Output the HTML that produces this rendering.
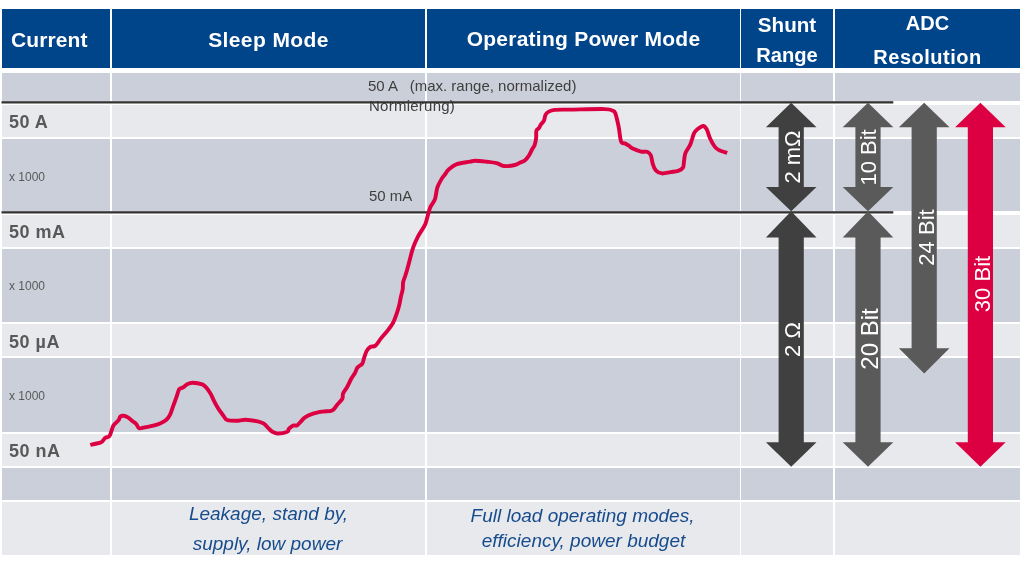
<!DOCTYPE html>
<html><head><meta charset="utf-8"><style>
html,body{margin:0;padding:0;background:#fff;}
body{width:1024px;height:569px;position:relative;overflow:hidden;font-family:"Liberation Sans",Arial,sans-serif;}
.c{position:absolute;}
.t{position:absolute;white-space:pre;line-height:1;will-change:transform;}
.h{color:#fff;font-weight:bold;font-size:21px;}
.h2{color:#fff;font-weight:bold;font-size:20px;text-align:center;}
.lb{color:#595959;font-weight:bold;font-size:18px;letter-spacing:0.5px;}
.x{color:#595959;font-size:12px;}
.n{color:#404040;font-size:15px;}
.i{color:#174c8c;font-style:italic;font-size:19px;text-align:center;}
svg{position:absolute;left:0;top:0;}
</style></head><body>
<div class="c" style="left:1.5px;top:9px;width:108.9px;height:59px;background:#00448a"></div><div class="c" style="left:111.9px;top:9px;width:313.2px;height:59px;background:#00448a"></div><div class="c" style="left:426.6px;top:9px;width:313.0px;height:59px;background:#00448a"></div><div class="c" style="left:741.1px;top:9px;width:92.0px;height:59px;background:#00448a"></div><div class="c" style="left:834.6px;top:9px;width:185.4px;height:59px;background:#00448a"></div><div class="c" style="left:1.5px;top:72.7px;width:108.9px;height:28.3px;background:#cbcfda"></div><div class="c" style="left:111.9px;top:72.7px;width:313.2px;height:28.3px;background:#cbcfda"></div><div class="c" style="left:426.6px;top:72.7px;width:313.0px;height:28.3px;background:#cbcfda"></div><div class="c" style="left:741.1px;top:72.7px;width:92.0px;height:28.3px;background:#cbcfda"></div><div class="c" style="left:834.6px;top:72.7px;width:185.4px;height:28.3px;background:#cbcfda"></div><div class="c" style="left:1.5px;top:105px;width:108.9px;height:32px;background:#e8e9ed"></div><div class="c" style="left:111.9px;top:105px;width:313.2px;height:32px;background:#e8e9ed"></div><div class="c" style="left:426.6px;top:105px;width:313.0px;height:32px;background:#e8e9ed"></div><div class="c" style="left:741.1px;top:105px;width:92.0px;height:32px;background:#e8e9ed"></div><div class="c" style="left:834.6px;top:105px;width:185.4px;height:32px;background:#e8e9ed"></div><div class="c" style="left:1.5px;top:139px;width:108.9px;height:72px;background:#cbcfda"></div><div class="c" style="left:111.9px;top:139px;width:313.2px;height:72px;background:#cbcfda"></div><div class="c" style="left:426.6px;top:139px;width:313.0px;height:72px;background:#cbcfda"></div><div class="c" style="left:741.1px;top:139px;width:92.0px;height:72px;background:#cbcfda"></div><div class="c" style="left:834.6px;top:139px;width:185.4px;height:72px;background:#cbcfda"></div><div class="c" style="left:1.5px;top:215px;width:108.9px;height:32px;background:#e8e9ed"></div><div class="c" style="left:111.9px;top:215px;width:313.2px;height:32px;background:#e8e9ed"></div><div class="c" style="left:426.6px;top:215px;width:313.0px;height:32px;background:#e8e9ed"></div><div class="c" style="left:741.1px;top:215px;width:92.0px;height:32px;background:#e8e9ed"></div><div class="c" style="left:834.6px;top:215px;width:185.4px;height:32px;background:#e8e9ed"></div><div class="c" style="left:1.5px;top:249px;width:108.9px;height:73px;background:#cbcfda"></div><div class="c" style="left:111.9px;top:249px;width:313.2px;height:73px;background:#cbcfda"></div><div class="c" style="left:426.6px;top:249px;width:313.0px;height:73px;background:#cbcfda"></div><div class="c" style="left:741.1px;top:249px;width:92.0px;height:73px;background:#cbcfda"></div><div class="c" style="left:834.6px;top:249px;width:185.4px;height:73px;background:#cbcfda"></div><div class="c" style="left:1.5px;top:324px;width:108.9px;height:32px;background:#e8e9ed"></div><div class="c" style="left:111.9px;top:324px;width:313.2px;height:32px;background:#e8e9ed"></div><div class="c" style="left:426.6px;top:324px;width:313.0px;height:32px;background:#e8e9ed"></div><div class="c" style="left:741.1px;top:324px;width:92.0px;height:32px;background:#e8e9ed"></div><div class="c" style="left:834.6px;top:324px;width:185.4px;height:32px;background:#e8e9ed"></div><div class="c" style="left:1.5px;top:358px;width:108.9px;height:73.5px;background:#cbcfda"></div><div class="c" style="left:111.9px;top:358px;width:313.2px;height:73.5px;background:#cbcfda"></div><div class="c" style="left:426.6px;top:358px;width:313.0px;height:73.5px;background:#cbcfda"></div><div class="c" style="left:741.1px;top:358px;width:92.0px;height:73.5px;background:#cbcfda"></div><div class="c" style="left:834.6px;top:358px;width:185.4px;height:73.5px;background:#cbcfda"></div><div class="c" style="left:1.5px;top:433.5px;width:108.9px;height:32.5px;background:#e8e9ed"></div><div class="c" style="left:111.9px;top:433.5px;width:313.2px;height:32.5px;background:#e8e9ed"></div><div class="c" style="left:426.6px;top:433.5px;width:313.0px;height:32.5px;background:#e8e9ed"></div><div class="c" style="left:741.1px;top:433.5px;width:92.0px;height:32.5px;background:#e8e9ed"></div><div class="c" style="left:834.6px;top:433.5px;width:185.4px;height:32.5px;background:#e8e9ed"></div><div class="c" style="left:1.5px;top:468px;width:108.9px;height:32px;background:#cbcfda"></div><div class="c" style="left:111.9px;top:468px;width:313.2px;height:32px;background:#cbcfda"></div><div class="c" style="left:426.6px;top:468px;width:313.0px;height:32px;background:#cbcfda"></div><div class="c" style="left:741.1px;top:468px;width:92.0px;height:32px;background:#cbcfda"></div><div class="c" style="left:834.6px;top:468px;width:185.4px;height:32px;background:#cbcfda"></div><div class="c" style="left:1.5px;top:501.5px;width:108.9px;height:53.5px;background:#e8e9ed"></div><div class="c" style="left:111.9px;top:501.5px;width:313.2px;height:53.5px;background:#e8e9ed"></div><div class="c" style="left:426.6px;top:501.5px;width:313.0px;height:53.5px;background:#e8e9ed"></div><div class="c" style="left:741.1px;top:501.5px;width:92.0px;height:53.5px;background:#e8e9ed"></div><div class="c" style="left:834.6px;top:501.5px;width:185.4px;height:53.5px;background:#e8e9ed"></div>
<div class="t h" style="left:10.5px;top:28.5px;letter-spacing:0.1px">Current</div>
<div class="t h" style="left:112px;width:313px;text-align:center;top:28.5px;letter-spacing:0.4px">Sleep Mode</div>
<div class="t h" style="left:427px;width:313px;text-align:center;top:28px;letter-spacing:0.25px">Operating Power Mode</div>
<div class="t h2" style="left:741px;width:92px;top:15.3px;font-size:20.6px">Shunt</div>
<div class="t h2" style="left:741px;width:92px;top:45.3px;font-size:20.2px">Range</div>
<div class="t h2" style="left:835px;width:185px;top:13px">ADC</div>
<div class="t h2" style="left:835px;width:185px;top:47px;letter-spacing:0.5px">Resolution</div>
<div class="t lb" style="left:8.5px;top:113px">50 A</div>
<div class="t lb" style="left:8.5px;top:222.5px">50 mA</div>
<div class="t lb" style="left:8.5px;top:332.5px">50 µA</div>
<div class="t lb" style="left:8.5px;top:441.5px">50 nA</div>
<div class="t x" style="left:9px;top:171px">x 1000</div>
<div class="t x" style="left:9px;top:280px">x 1000</div>
<div class="t x" style="left:9px;top:390px">x 1000</div>
<div class="t n" style="left:368.3px;top:78px">50 A   (max. range, normalized)</div>
<div class="t n" style="left:368.5px;top:98px;letter-spacing:0.25px">Normierung)</div>
<div class="t n" style="left:369px;top:188px">50 mA</div>
<div class="t i" style="left:112px;width:313px;top:504px">Leakage, stand by,</div>
<div class="t i" style="left:110.5px;width:313px;top:534.2px">supply, low power</div>
<div class="t i" style="left:426px;width:313px;top:506px">Full load operating modes,</div>
<div class="t i" style="left:427px;width:313px;top:531px">efficiency, power budget</div>
<svg width="1024" height="569" viewBox="0 0 1024 569" font-family="Liberation Sans, Arial, sans-serif">
<rect x="1.5" y="101.2" width="891.8" height="2.3" fill="#333333"/>
<rect x="1.5" y="211.2" width="891.8" height="2.3" fill="#333333"/>
<path d="M90.3,445.0 C91.0,444.8 92.8,444.5 94.6,444.0 C96.4,443.5 99.7,442.9 101.2,442.2 C102.7,441.5 102.7,440.8 103.4,440.0 C104.1,439.2 104.6,438.3 105.6,437.7 C106.6,437.1 108.3,437.3 109.3,436.2 C110.3,435.1 110.9,432.4 111.5,430.8 C112.1,429.2 112.4,427.6 113.0,426.4 C113.6,425.2 114.2,424.6 115.2,423.5 C116.2,422.4 118.0,420.9 118.8,419.8 C119.6,418.7 119.4,417.3 120.3,416.6 C121.2,415.9 122.6,415.6 123.9,415.8 C125.2,416.0 126.8,416.7 128.3,417.6 C129.8,418.5 131.3,420.2 132.7,421.3 C134.0,422.4 135.3,423.0 136.4,424.2 C137.5,425.4 137.7,427.8 139.3,428.3 C140.9,428.8 143.6,427.5 145.9,427.1 C148.2,426.7 150.8,426.4 153.2,425.7 C155.6,425.0 158.4,424.2 160.6,423.2 C162.8,422.2 164.8,421.2 166.4,419.8 C168.0,418.4 169.0,416.9 170.1,414.7 C171.2,412.5 172.0,409.3 173.0,406.6 C174.0,403.9 175.0,401.2 175.9,398.6 C176.8,396.0 177.8,392.9 178.4,391.2 C179.0,389.5 178.8,389.3 179.6,388.7 C180.4,388.1 182.1,388.0 183.3,387.3 C184.5,386.6 185.3,385.2 186.9,384.4 C188.5,383.6 190.2,382.7 192.8,382.7 C195.4,382.7 200.1,383.6 202.3,384.4 C204.5,385.2 204.7,385.8 206.0,387.3 C207.3,388.8 209.1,391.1 210.4,393.4 C211.7,395.6 212.7,398.2 214.0,400.8 C215.3,403.4 217.3,407.0 218.4,408.8 C219.5,410.6 219.4,410.3 220.3,411.5 C221.2,412.7 222.4,414.6 223.6,416.0 C224.8,417.4 225.1,419.2 227.2,420.0 C229.3,420.8 233.0,420.8 236.1,420.8 C239.2,420.8 242.2,419.7 245.6,419.8 C249.0,419.9 253.6,420.6 256.6,421.2 C259.7,421.8 261.9,422.5 263.9,423.7 C265.8,424.9 266.9,426.8 268.3,428.1 C269.7,429.4 270.5,430.6 272.0,431.5 C273.5,432.4 274.5,433.4 277.1,433.5 C279.7,433.6 285.4,432.6 287.4,431.8 C289.3,431.0 287.8,429.9 288.8,428.8 C289.8,427.8 291.9,426.1 293.2,425.5 C294.5,424.9 295.7,426.1 296.9,425.5 C298.1,424.9 299.2,423.2 300.6,421.8 C302.0,420.4 303.1,418.7 305.0,417.4 C306.9,416.1 309.4,414.9 312.3,413.9 C315.2,412.9 319.2,412.2 322.5,411.6 C325.8,411.0 329.7,411.6 332.1,410.5 C334.6,409.4 335.5,406.6 337.2,404.7 C338.9,402.8 341.3,400.6 342.3,398.8 C343.3,397.0 342.3,395.5 343.0,393.7 C343.7,391.9 345.3,390.2 346.7,387.8 C348.1,385.4 349.8,381.4 351.1,379.0 C352.5,376.6 353.7,375.1 354.8,373.2 C355.9,371.3 356.3,369.1 357.5,367.5 C358.7,365.9 361.1,365.4 362.2,363.8 C363.3,362.2 363.4,360.0 364.1,357.9 C364.9,355.8 365.7,352.7 366.7,350.9 C367.7,349.1 368.7,347.9 370.2,347.0 C371.7,346.1 373.7,347.0 375.5,345.6 C377.3,344.2 378.9,341.0 380.8,338.6 C382.7,336.2 384.8,334.1 386.9,331.5 C388.9,328.9 391.5,325.6 393.1,322.7 C394.7,319.8 395.6,316.8 396.6,313.9 C397.6,311.0 398.5,308.1 399.2,305.2 C399.9,302.3 400.4,299.0 401.0,296.4 C401.6,293.8 402.3,291.6 402.7,289.3 C403.1,287.0 402.7,284.6 403.1,282.3 C403.6,280.0 404.6,277.7 405.4,275.3 C406.1,272.9 406.7,271.4 407.6,268.0 C408.5,264.6 410.1,258.6 411.0,255.1 C411.9,251.6 412.2,250.1 413.3,247.1 C414.4,244.1 415.9,240.4 417.8,236.8 C419.7,233.2 423.2,228.5 424.7,225.4 C426.2,222.3 426.1,221.6 427.0,218.5 C427.9,215.4 429.1,210.3 430.4,207.1 C431.7,203.9 433.9,202.3 435.0,199.1 C436.1,195.9 436.2,191.1 437.3,187.7 C438.4,184.3 440.5,180.9 441.8,178.6 C443.1,176.3 444.2,175.5 445.3,174.0 C446.4,172.5 446.8,171.0 448.7,169.4 C450.6,167.8 453.1,165.5 456.7,164.2 C460.2,162.9 466.9,162.3 470.0,161.7 C473.1,161.1 472.2,160.7 475.0,160.7 C477.8,160.7 483.0,161.3 486.6,161.7 C490.2,162.1 493.7,162.4 496.6,163.1 C499.5,163.8 501.0,165.7 504.0,166.0 C507.0,166.3 512.2,165.6 514.8,165.0 C517.4,164.4 518.1,163.4 519.8,162.7 C521.5,162.0 523.3,161.8 524.8,160.6 C526.3,159.4 527.6,157.5 528.9,155.6 C530.1,153.7 531.3,150.8 532.3,149.0 C533.3,147.2 534.1,146.6 534.7,144.8 C535.3,143.0 535.8,140.5 536.1,138.2 C536.4,135.8 535.9,132.4 536.4,130.7 C536.9,129.0 538.2,129.2 538.9,128.2 C539.6,127.2 539.8,126.2 540.6,124.9 C541.4,123.7 543.1,122.4 543.9,120.7 C544.7,119.0 544.8,116.3 545.5,114.9 C546.2,113.5 546.5,112.9 548.0,112.1 C549.5,111.3 551.1,110.3 554.7,109.9 C558.3,109.5 561.3,109.7 569.6,109.6 C577.9,109.5 597.3,108.9 604.5,109.1 C611.7,109.3 611.0,110.1 612.8,110.8 C614.6,111.5 614.3,110.7 615.3,113.3 C616.3,115.9 617.6,121.8 618.6,126.5 C619.6,131.2 620.0,138.7 621.1,141.5 C622.2,144.3 623.8,142.7 625.2,143.5 C626.6,144.3 628.1,145.3 629.4,146.1 C630.6,146.9 630.8,147.6 632.7,148.5 C634.7,149.4 638.7,151.0 641.1,151.6 C643.5,152.2 645.6,151.2 647.2,151.8 C648.8,152.5 650.0,153.4 650.9,155.5 C651.8,157.6 652.0,161.6 652.8,164.1 C653.6,166.6 654.3,168.8 655.8,170.3 C657.3,171.9 659.5,173.1 662.0,173.4 C664.5,173.7 667.9,172.5 670.6,172.1 C673.3,171.7 676.0,171.6 678.0,170.9 C680.0,170.2 681.9,169.6 682.9,167.8 C683.9,166.1 683.7,162.9 684.1,160.4 C684.5,157.9 684.4,155.8 685.4,153.1 C686.4,150.4 688.9,147.8 690.3,144.5 C691.7,141.2 692.8,136.0 694.0,133.4 C695.2,130.8 696.2,130.3 697.7,129.1 C699.2,127.9 701.7,125.9 703.2,126.0 C704.7,126.1 705.8,127.6 706.9,129.7 C708.0,131.8 708.7,135.4 710.0,138.3 C711.3,141.2 713.3,144.9 714.9,146.9 C716.5,148.9 717.8,149.6 719.8,150.6 C721.8,151.6 726.0,152.4 727.2,152.8" fill="none" stroke="#dc0042" stroke-width="3.9" stroke-linejoin="round" stroke-linecap="butt"/>
<polygon points="791.2,102.7 816.5,127.3 803.8,127.3 803.8,187.0 816.5,187.0 791.2,211.2 765.9,187.0 778.6,187.0 778.6,127.3 765.9,127.3" fill="#404040"/><polygon points="791.2,211.2 816.5,237.4 803.8,237.4 803.8,442.3 816.5,442.3 791.2,466.8 765.9,442.3 778.6,442.3 778.6,237.4 765.9,237.4" fill="#404040"/><polygon points="868.0,102.7 893.3,127.3 880.6,127.3 880.6,187.0 893.3,187.0 868.0,211.2 842.7,187.0 855.4,187.0 855.4,127.3 842.7,127.3" fill="#5a5a5a"/><polygon points="868.0,211.2 893.3,237.4 880.6,237.4 880.6,442.3 893.3,442.3 868.0,466.8 842.7,442.3 855.4,442.3 855.4,237.4 842.7,237.4" fill="#5a5a5a"/><polygon points="924.2,102.7 949.5,127.3 936.8,127.3 936.8,348.3 949.5,348.3 924.2,373.4 898.9,348.3 911.6,348.3 911.6,127.3 898.9,127.3" fill="#5a5a5a"/><polygon points="980.4,102.7 1005.7,127.3 993.0,127.3 993.0,442.3 1005.7,442.3 980.4,466.8 955.1,442.3 967.8,442.3 967.8,127.3 955.1,127.3" fill="#dc0042"/>
<text transform="translate(800.1,157) rotate(-90)" text-anchor="middle" font-size="22" fill="#fff">2 m&#937;</text><text transform="translate(876.4,157.4) rotate(-90)" text-anchor="middle" font-size="22" fill="#fff">10 Bit</text><text transform="translate(799.9,339.5) rotate(-90)" text-anchor="middle" font-size="22" fill="#fff">2 &#937;</text><text transform="translate(877.9,339) rotate(-90)" text-anchor="middle" font-size="24" fill="#fff">20 Bit</text><text transform="translate(933.5,237.5) rotate(-90)" text-anchor="middle" font-size="22" fill="#fff">24 Bit</text><text transform="translate(989.7,284) rotate(-90)" text-anchor="middle" font-size="22" fill="#fff">30 Bit</text>
</svg>
</body></html>
